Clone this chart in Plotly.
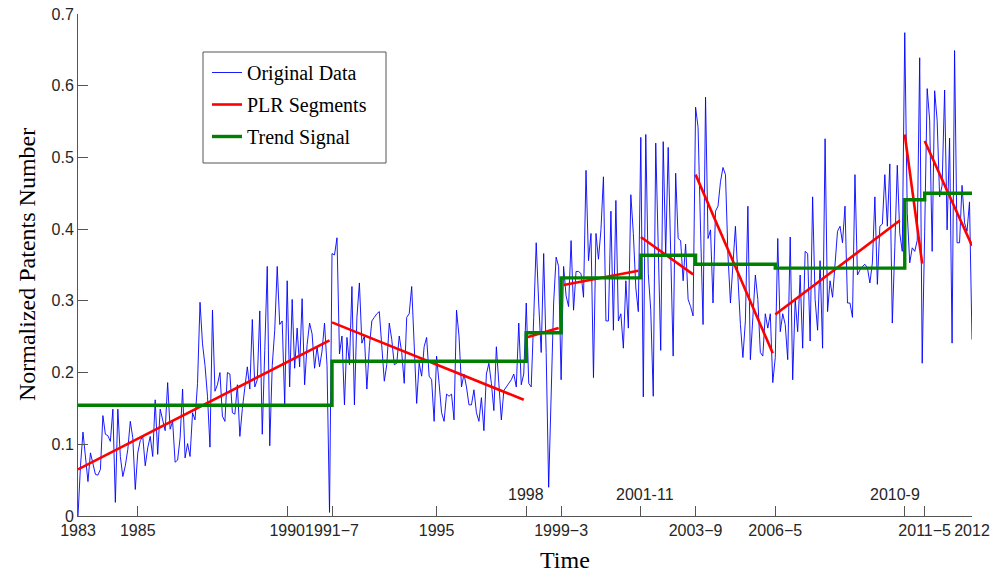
import plotly.graph_objects as go

# ---------------- data ----------------
# monthly normalized patent counts, Jan 1983 .. Dec 2012 (index 0..359)
original_1983_1991 = [
    0.000, 0.070, 0.117, 0.085, 0.048, 0.088, 0.075, 0.058, 0.057, 0.065,
    0.140, 0.114, 0.112, 0.104, 0.149, 0.019, 0.149, 0.083, 0.055, 0.070,
    0.093, 0.132, 0.109, 0.037, 0.088, 0.105, 0.111, 0.070, 0.095, 0.111,
    0.083, 0.162, 0.086, 0.149, 0.134, 0.119, 0.186, 0.121, 0.132, 0.075,
    0.078, 0.109, 0.177, 0.081, 0.101, 0.083, 0.144, 0.134, 0.185, 0.298,
    0.240, 0.210, 0.167, 0.096, 0.287, 0.174, 0.183, 0.200, 0.139, 0.132,
    0.200, 0.198, 0.144, 0.142, 0.183, 0.111, 0.150, 0.180, 0.208, 0.177,
    0.274, 0.180, 0.190, 0.286, 0.114, 0.231, 0.348, 0.098, 0.210, 0.259,
    0.348, 0.267, 0.272, 0.155, 0.328, 0.180, 0.302, 0.206, 0.262, 0.208,
    0.303, 0.183, 0.239, 0.269, 0.254, 0.206, 0.236, 0.208, 0.230, 0.269,
    0.210, 0.005,
]
original_1991_2001 = [
    0.366, 0.364, 0.388, 0.226, 0.251, 0.155, 0.249, 0.211, 0.320, 0.155,
    0.277, 0.325, 0.241, 0.251, 0.177, 0.236, 0.272, 0.277, 0.282, 0.285,
    0.241, 0.188, 0.211, 0.269, 0.246, 0.211, 0.213, 0.251, 0.228, 0.185,
    0.277, 0.282, 0.320, 0.249, 0.157, 0.213, 0.195, 0.236, 0.249, 0.195,
    0.190, 0.132, 0.223, 0.185, 0.144, 0.132, 0.170, 0.167, 0.170, 0.134,
    0.287, 0.251, 0.180, 0.198, 0.180, 0.155, 0.155, 0.176, 0.144, 0.132,
    0.165, 0.119, 0.198, 0.213, 0.185, 0.147, 0.236, 0.185, 0.134, 0.175,
    0.180, 0.185, 0.190, 0.198, 0.180, 0.269, 0.183, 0.198, 0.297, 0.185,
    0.180, 0.277, 0.381, 0.297, 0.228, 0.366, 0.228, 0.040, 0.180, 0.297,
    0.361, 0.348, 0.190, 0.348, 0.307, 0.292, 0.384, 0.287, 0.341, 0.341,
    0.338, 0.305, 0.482, 0.356, 0.394, 0.193, 0.394, 0.358, 0.399, 0.473,
    0.272, 0.272, 0.425, 0.259, 0.440, 0.272, 0.282, 0.234, 0.328, 0.262,
    0.448, 0.394, 0.318, 0.285,
]
original_2001_2012 = [
    0.528, 0.166, 0.532, 0.338, 0.287, 0.167, 0.520, 0.369, 0.231, 0.522,
    0.364, 0.514, 0.343, 0.223, 0.478, 0.387, 0.384, 0.328, 0.379, 0.302,
    0.292, 0.279, 0.570, 0.542, 0.399, 0.267, 0.584, 0.387, 0.399, 0.297,
    0.425, 0.432, 0.466, 0.486, 0.476, 0.364, 0.297, 0.353, 0.404, 0.333,
    0.267, 0.221, 0.272, 0.432, 0.218, 0.277, 0.336, 0.302, 0.228, 0.223,
    0.282, 0.262, 0.282, 0.186, 0.221, 0.387, 0.257, 0.282, 0.267, 0.218,
    0.389, 0.190, 0.302, 0.257, 0.336, 0.234, 0.369, 0.366, 0.244, 0.445,
    0.302, 0.259, 0.356, 0.234, 0.526, 0.285, 0.328, 0.305, 0.358, 0.397,
    0.404, 0.381, 0.432, 0.297, 0.297, 0.277, 0.476, 0.336, 0.343, 0.348,
    0.351, 0.346, 0.325, 0.353, 0.445, 0.323, 0.404, 0.407, 0.476, 0.404,
    0.491, 0.269, 0.374, 0.489, 0.394, 0.369, 0.674, 0.422, 0.353, 0.374,
    0.369, 0.384, 0.639, 0.213, 0.397, 0.596, 0.552, 0.369, 0.593, 0.552,
    0.445, 0.461, 0.594, 0.399, 0.527, 0.241, 0.649, 0.381, 0.381, 0.461,
    0.409, 0.397, 0.438, 0.246,
]
original = original_1983_1991 + original_1991_2001 + original_2001_2012
months = list(range(len(original)))

# PLR segments: start month, start value, end month, end value
plr_start_month = [0, 102, 180, 195, 226, 248, 280, 332, 340]
plr_start_value = [0.065, 0.270, 0.249, 0.322, 0.389, 0.476, 0.281, 0.532, 0.523]
plr_end_month = [101, 179, 193, 225, 247, 279, 330, 339, 359]
plr_end_value = [0.245, 0.162, 0.262, 0.342, 0.337, 0.227, 0.412, 0.352, 0.377]

# Trend signal: level changes at these months
trend_month = [0, 102, 180, 194, 226, 248, 280, 332, 340, 359]
trend_value = [0.1545, 0.2157, 0.2555, 0.332, 0.3636, 0.351, 0.3457, 0.441, 0.450, 0.450]

# x-axis ticks (month index and label)
tick_month_below = [0, 24, 84, 102, 144, 194, 248, 280, 340, 359]
tick_text_below = ["1983", "1985", "1990", "1991\u22127", "1995", "1999\u22123",
                   "2003\u22129", "2006\u22125", "2011\u22125", "2012"]
tick_month_above = [180, 226, 332]
tick_text_above = ["1998", "2001-11", "2010-9"]

SANS = "Liberation Sans, Arial, sans-serif"
SERIF = "Liberation Serif, Times New Roman, serif"

# ---------------- figure ----------------
fig = go.Figure()

fig.add_trace(go.Scatter(
    x=months, y=original, mode="lines", name="Original Data", legendgroup="a",
    line=dict(color="#0000ff", width=0.9)))

plr_x, plr_y = [], []
for a, va, b, vb in zip(plr_start_month, plr_start_value, plr_end_month, plr_end_value):
    plr_x += [a, b, None]
    plr_y += [va, vb, None]
fig.add_trace(go.Scatter(
    x=plr_x, y=plr_y, mode="lines", name="PLR Segments", legendgroup="b",
    line=dict(color="#ff0000", width=2.6)))

fig.add_trace(go.Scatter(
    x=trend_month, y=trend_value, mode="lines", name="Trend Signal", legendgroup="c",
    line=dict(color="#008000", width=3.4, shape="hv")))

all_ticks = tick_month_below + tick_month_above
all_text = tick_text_below + [""] * len(tick_month_above)

for m, t in zip(tick_month_above, tick_text_above):
    fig.add_annotation(x=m, y=0, xref="x", yref="y", text=t, showarrow=False,
                       yanchor="bottom", yshift=11,
                       xshift=(-10 if t == "2010-9" else (4 if t == "2001-11" else 0)),
                       font=dict(family=SANS, size=16, color="#262626"))

fig.add_annotation(x=0.545, y=-0.088, xref="paper", yref="paper", text="Time",
                   showarrow=False, yanchor="middle", xanchor="center",
                   font=dict(family=SERIF, size=24, color="#000000"))

fig.add_annotation(x=-0.057, y=0.5, xref="paper", yref="paper",
                   text="Normalized Patents Number", textangle=-90,
                   showarrow=False, yanchor="middle", xanchor="center",
                   font=dict(family=SERIF, size=24, color="#000000"))

# legend frame
fig.add_shape(type="rect", xref="paper", yref="paper",
              x0=(203 - 78) / 894, x1=(386 - 78) / 894,
              y0=(516 - 163) / 502, y1=(516 - 52) / 502,
              line=dict(color="#555555", width=1), fillcolor="white", layer="below")

fig.update_layout(
    width=1003, height=573,
    margin=dict(l=78, r=31, t=14, b=57),
    paper_bgcolor="white", plot_bgcolor="white",
    showlegend=True,
    legend=dict(x=(207 - 78) / 894, y=(516 - 53) / 502, xanchor="left", yanchor="top",
                bgcolor="rgba(0,0,0,0)", borderwidth=0,
                font=dict(family=SERIF, size=20, color="#000000"),
                itemwidth=30, tracegroupgap=3),
    xaxis=dict(range=[0, 359], showgrid=False, zeroline=False, automargin=False,
               showline=True, linecolor="#555555", linewidth=1,
               ticks="inside", ticklen=10, tickcolor="#555555", tickangle=0,
               tickvals=all_ticks, ticktext=all_text, ticklabeloverflow="allow",
               tickfont=dict(family=SANS, size=16, color="#262626")),
    yaxis=dict(range=[0, 0.7], showgrid=False, zeroline=False, automargin=False,
               showline=True, linecolor="#555555", linewidth=1,
               ticks="inside", ticklen=10, tickcolor="#555555",
               tickvals=[0, 0.1, 0.2, 0.3, 0.4, 0.5, 0.6, 0.7],
               ticktext=["0", "0.1", "0.2", "0.3", "0.4", "0.5", "0.6", "0.7"],
               ticklabeloverflow="allow",
               tickfont=dict(family=SANS, size=16, color="#262626")),
)

fig.write_html("out.html", config={"displayModeBar": False},
               post_script="document.body.style.margin='0';document.body.style.overflow='hidden';")
